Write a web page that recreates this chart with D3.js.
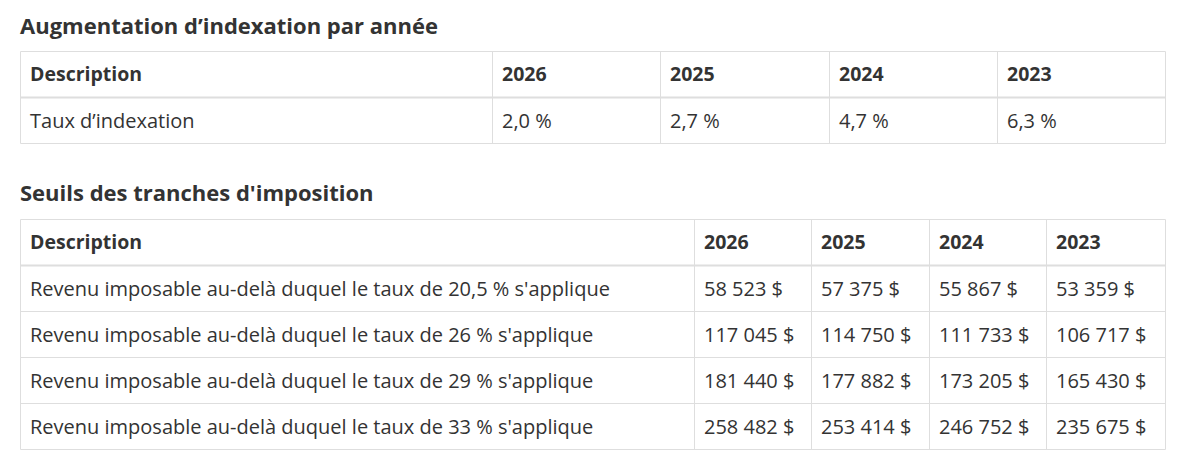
<!DOCTYPE html>
<html><head><meta charset="utf-8">
<script src="https://cdn.jsdelivr.net/npm/d3@7"></script>
<style>body{margin:0;background:#fff}svg{display:block}</style>
</head><body>
<svg id="c" width="1200" height="467"></svg>
<script>
const title1 = "Augmentation d’indexation par année";
const title2 = "Seuils des tranches d'imposition";
const years = ["2026","2025","2024","2023"];
const indexRows = ["Taux d’indexation"];
const indexValues = [["2,0 %","2,7 %","4,7 %","6,3 %"]];
const bracketRows = [
 "Revenu imposable au-delà duquel le taux de 20,5 % s'applique",
 "Revenu imposable au-delà duquel le taux de 26 % s'applique",
 "Revenu imposable au-delà duquel le taux de 29 % s'applique",
 "Revenu imposable au-delà duquel le taux de 33 % s'applique"];
const bracketValues = [
 ["58 523 $","57 375 $","55 867 $","53 359 $"],
 ["117 045 $","114 750 $","111 733 $","106 717 $"],
 ["181 440 $","177 882 $","173 205 $","165 430 $"],
 ["258 482 $","253 414 $","246 752 $","235 675 $"]];

const svg = d3.select("#c");
const font = "'Open Sans', 'Noto Sans', sans-serif";
const border = "#dedede", txt = "#333";

function table(title, titleY, top, edges, rows, values){
  svg.append("text").attr("x",20).attr("y",titleY).attr("font-family",font)
    .attr("font-size",22).attr("font-weight",700).attr("fill",txt).text(title);
  const rowH = 46;
  const nRows = rows.length + 1;
  const y = d3.scaleLinear().domain([0,nRows]).range([top, top+nRows*rowH]);
  const g = svg.append("g");
  d3.range(nRows+1).forEach(i=>{
    g.append("line").attr("x1",edges[0]).attr("x2",edges[edges.length-1])
      .attr("y1",y(i)).attr("y2",y(i)).attr("stroke",border)
      .attr("stroke-width", i===1?2:1);
  });
  edges.forEach(x=>{
    g.append("line").attr("x1",x).attr("x2",x).attr("y1",y(0)).attr("y2",y(nRows))
      .attr("stroke",border).attr("stroke-width",1);
  });
  const header = ["Description", ...years];
  header.forEach((h,j)=>{
    g.append("text").attr("x",edges[j]+9.5).attr("y",(y(0)+y(1))/2).attr("dy","0.35em")
      .attr("font-family",font).attr("font-size",19.5).attr("font-weight",700)
      .attr("fill",txt).text(h);
  });
  rows.forEach((r,i)=>{
    const cells=[r,...values[i]];
    cells.forEach((c,j)=>{
      g.append("text").attr("x",edges[j]+9.5).attr("y",(y(i+1)+y(i+2))/2).attr("dy","0.35em")
        .attr("font-family",font).attr("font-size",20).attr("fill",txt).text(c);
    });
  });
}
table(title1, 34, 51.5, [20.5,492.5,660.5,829.5,997.5,1165.5], indexRows, indexValues);
table(title2, 201, 219.5, [20.5,694.5,811.5,929.5,1046.5,1165.5], bracketRows, bracketValues);
</script>
</body></html>
